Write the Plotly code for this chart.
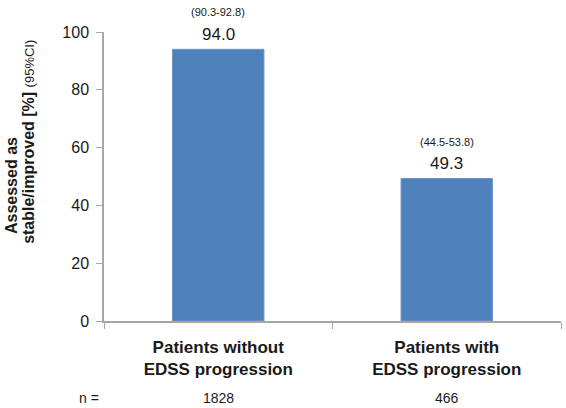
import plotly.graph_objects as go

categories = ["Patients without<br>EDSS progression", "Patients with<br>EDSS progression"]
values = [94.0, 49.3]
ci_labels = ["(90.3-92.8)", "(44.5-53.8)"]
n_values = ["1828", "466"]
y_ticks = [0, 20, 40, 60, 80, 100]

FONT = "Liberation Sans, Arial, sans-serif"
TXT = "#1a1a1a"
AXIS = "#a6a6a6"

fig = go.Figure()
fig.add_trace(go.Bar(
    x=categories, y=values, width=0.4,
    marker=dict(color="#4f81bd", line=dict(color="#6f95c8", width=1)),
    hoverinfo="skip",
))

ann = []
for c, v, ci, n in zip(categories, values, ci_labels, n_values):
    ann.append(dict(x=c, y=v, xref="x", yref="y", text=f"{v:.1f}", showarrow=False,
                    yanchor="middle", yshift=15, font=dict(size=17, color=TXT, family=FONT)))
    ann.append(dict(x=c, y=v, xref="x", yref="y", text=ci, showarrow=False,
                    yanchor="middle", yshift=37, font=dict(size=11, color=TXT, family=FONT)))
    ann.append(dict(x=c, y=-0.266, xref="x", yref="paper", text=n, showarrow=False,
                    yanchor="middle", font=dict(size=14, color=TXT, family=FONT)))
ann.append(dict(x=-0.033, y=-0.266, xref="paper", yref="paper", text="n =", showarrow=False,
                xanchor="center", yanchor="middle", font=dict(size=14, color=TXT, family=FONT)))
ann.append(dict(x=-0.2035, y=0.467, xref="paper", yref="paper", textangle=-90,
                text="<b>Assessed as</b>",
                showarrow=False, xanchor="center", yanchor="middle",
                font=dict(size=16, color=TXT, family=FONT)))
ann.append(dict(x=-0.164, y=0.62, xref="paper", yref="paper", textangle=-90,
                text="<b>stable/improved [%]</b> <span style='font-size:13px'>(95%CI)</span>",
                showarrow=False, xanchor="center", yanchor="middle",
                font=dict(size=16, color=TXT, family=FONT)))

fig.update_layout(
    width=566, height=408,
    margin=dict(l=104, r=5, t=32, b=87),
    paper_bgcolor="white", plot_bgcolor="white",
    showlegend=False,
    hovermode=False,
    annotations=ann,
    xaxis=dict(
        range=[-0.5, 1.5], showline=True, linecolor=AXIS, linewidth=1.5,
        ticks="outside", tickson="boundaries", ticklen=6, tickcolor=AXIS,
        showgrid=False, tickfont=dict(size=17, color=TXT, family=FONT),
        ticklabelstandoff=10, tickprefix="<b>", ticksuffix="</b>", automargin=False,
    ),
    yaxis=dict(
        range=[0, 100], tickvals=y_ticks, showline=True, linecolor=AXIS, linewidth=1.5,
        ticks="outside", ticklen=6, tickcolor=AXIS, showgrid=False, zeroline=False,
        tickfont=dict(size=16, color=TXT, family=FONT), automargin=False,
        ticklabelstandoff=4,
    ),
)

fig.write_html(
    "out.html",
    config={"displayModeBar": False},
    post_script="document.body.style.margin='0';document.body.style.overflow='hidden';",
)
